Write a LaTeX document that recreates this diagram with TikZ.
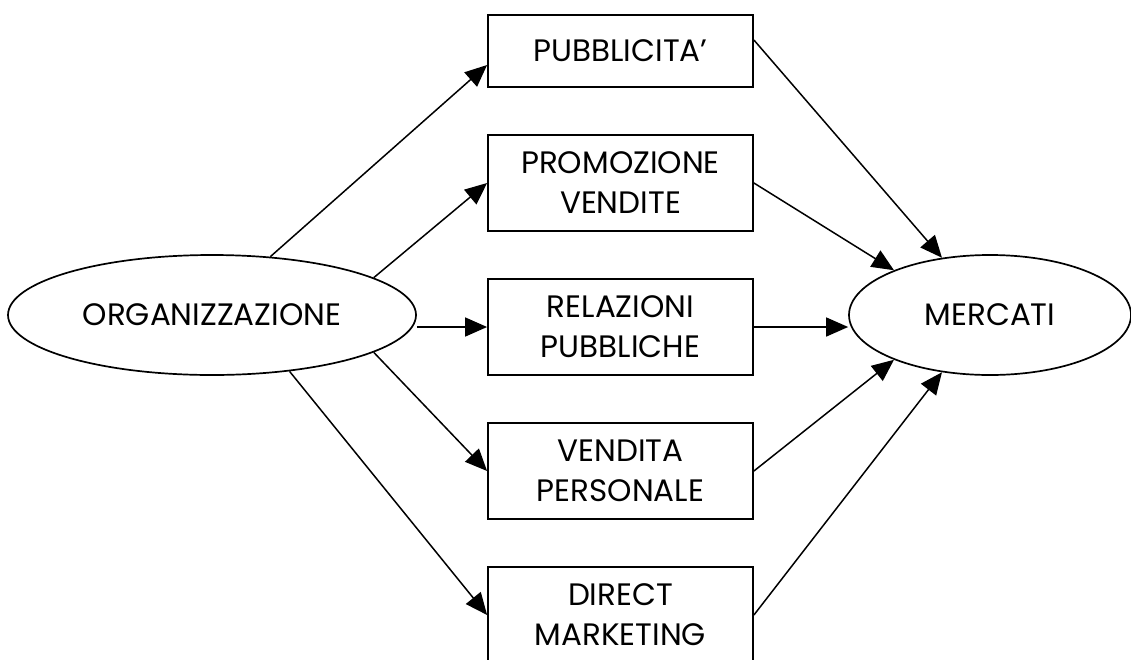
\documentclass[tikz,border=0pt]{standalone}
\usepackage{fontspec}
\setmainfont{Poppins}
\usetikzlibrary{shapes.geometric,arrows.meta,calc}
\tikzset{
  ell/.style={ellipse, draw, line width=1.7pt, inner sep=0pt},
  boxnode/.style={rectangle, draw, line width=1.8pt, minimum width=265pt, inner sep=0pt, align=center},
  arr/.style={line width=1.5pt, -{Triangle[length=22pt,width=19pt]}},
  lbl/.style={font=\fontsize{31}{40}\selectfont}
}
\begin{document}
\begin{tikzpicture}[x=1pt,y=-1pt]
\useasboundingbox (0,0) rectangle (1131,659);
\clip (0,0) rectangle (1131,659);
\node[ell, lbl, minimum width=408pt, minimum height=120pt] (org) at (212,315) {ORGANIZZAZIONE};
\node[ell, lbl, minimum width=282pt, minimum height=120pt] (mer) at (990,315) {MERCATI};
\node[boxnode, lbl, minimum height=72pt] (pub) at (620.5,51) {PUBBLICITA’};
\node[boxnode, lbl, minimum height=96pt] (prom) at (620.5,183) {PROMOZIONE\\VENDITE};
\node[boxnode, lbl, minimum height=96pt] (rel) at (620.5,327) {RELAZIONI\\PUBBLICHE};
\node[boxnode, lbl, minimum height=96pt] (vend) at (620.5,471) {VENDITA\\PERSONALE};
\node[boxnode, lbl, minimum height=96pt] (dir) at (620.5,615) {DIRECT\\MARKETING};
% from organizzazione
\draw[arr] (org.45) -- ([yshift=-14pt]pub.west);
\draw[arr] (org.13) -- (prom.west);
\draw[arr] (rel.west -| org.east) -- (rel.west);
\draw[arr] (org.-13) -- (vend.west);
\draw[arr] (org.-36) -- (dir.west);
% to mercati
\draw[arr] ([yshift=11pt]pub.east) -- (mer.130);
\draw[arr] (prom.east) -- (mer.155);
\draw[arr] (rel.east) -- (rel.east -| mer.west);
\draw[arr] (vend.east) -- (mer.-155);
\draw[arr] (dir.east) -- (mer.-130);
\end{tikzpicture}
\end{document}
